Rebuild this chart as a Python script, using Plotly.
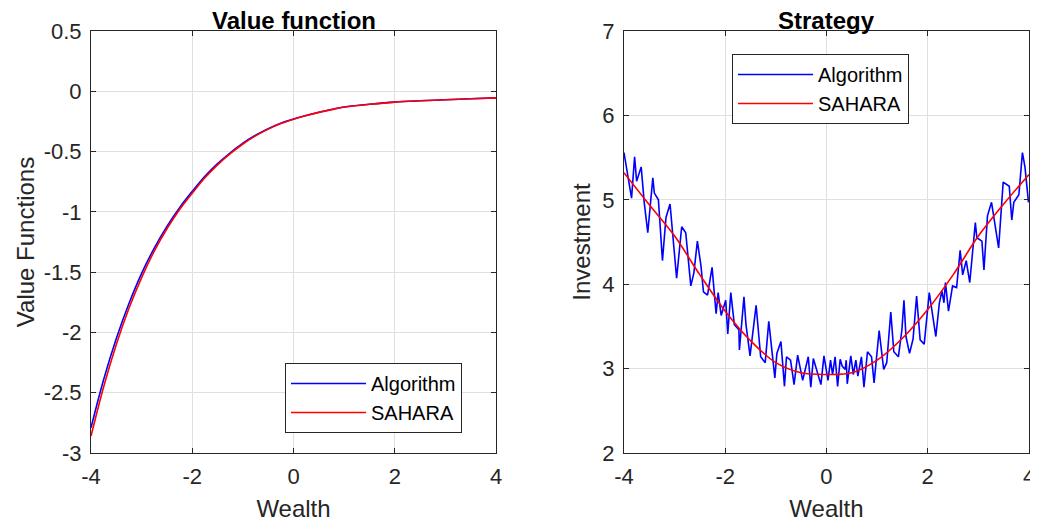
import plotly.graph_objects as go
from plotly.subplots import make_subplots

# ── Data ──────────────────────────────────────────────────────────────────────

# Value function (left panel)
wealth_vf = [-4.0, -3.75, -3.5, -3.25, -3.0, -2.75, -2.5, -2.25, -2.0,
             -1.75, -1.5, -1.25, -1.0, -0.75, -0.5, -0.25, 0.0,
             0.25, 0.5, 0.75, 1.0, 1.5, 2.0, 2.5, 3.0, 3.5, 4.0]
vf_algorithm = [-2.79, -2.39, -2.05, -1.76, -1.51, -1.30, -1.12, -0.965, -0.83,
                -0.705, -0.60, -0.51, -0.43, -0.365, -0.31, -0.265, -0.23,
                -0.20, -0.174, -0.151, -0.13, -0.108, -0.09, -0.079, -0.07, -0.062, -0.055]
vf_sahara = [-2.86, -2.45, -2.10, -1.80, -1.545, -1.325, -1.14, -0.98, -0.845,
             -0.717, -0.61, -0.518, -0.437, -0.37, -0.314, -0.268, -0.232,
             -0.201, -0.175, -0.152, -0.131, -0.108, -0.09, -0.079, -0.07, -0.062, -0.055]

# Strategy (right panel) - noisy algorithm output
wealth_alg = [-4.00, -3.95, -3.85, -3.79, -3.75, -3.66, -3.60, -3.53, -3.43, -3.40,
              -3.32, -3.24, -3.17, -3.09, -2.96, -2.86, -2.78, -2.68, -2.62, -2.55,
              -2.48, -2.43, -2.35, -2.26, -2.18, -2.14, -2.08, -1.99, -1.95, -1.89,
              -1.82, -1.73, -1.72, -1.63, -1.59, -1.51, -1.39, -1.30, -1.21, -1.14,
              -1.02, -0.98, -0.90, -0.83, -0.79, -0.71, -0.64, -0.57, -0.47, -0.36,
              -0.31, -0.26, -0.11, -0.05, 0.03, 0.08, 0.12, 0.17, 0.22, 0.27,
              0.31, 0.37, 0.39, 0.41, 0.48, 0.53, 0.58, 0.62, 0.69, 0.74,
              0.81, 0.89, 0.94, 1.04, 1.13, 1.19, 1.27, 1.33, 1.42, 1.49,
              1.53, 1.57, 1.64, 1.71, 1.78, 1.85, 1.93, 2.03, 2.09, 2.16,
              2.23, 2.28, 2.32, 2.35, 2.41, 2.49, 2.57, 2.64, 2.69, 2.76,
              2.83, 2.94, 2.97, 3.07, 3.11, 3.18, 3.26, 3.35, 3.40, 3.49,
              3.61, 3.66, 3.70, 3.80, 3.87, 3.92, 3.99]
inv_algorithm = [5.56, 5.38, 5.02, 5.51, 5.22, 5.39, 4.97, 4.61, 5.26, 5.08,
                 5.00, 4.28, 4.79, 4.95, 4.07, 4.68, 4.61, 3.98, 4.13, 4.51,
                 4.22, 3.91, 3.87, 4.20, 3.65, 3.90, 3.63, 3.81, 3.41, 3.90,
                 3.52, 3.46, 3.22, 3.85, 3.52, 3.15, 3.75, 3.14, 3.07, 3.56,
                 2.89, 3.18, 3.32, 2.79, 3.14, 3.10, 2.81, 3.16, 2.86, 3.14,
                 2.78, 3.12, 2.81, 3.15, 2.86, 3.10, 2.93, 3.14, 2.79, 3.11,
                 3.03, 2.99, 3.10, 2.82, 3.15, 2.93, 3.10, 2.91, 3.14, 2.78,
                 3.20, 3.14, 2.83, 3.45, 2.99, 3.07, 3.67, 3.20, 3.14, 3.46,
                 3.81, 3.38, 3.18, 3.35, 3.86, 3.34, 3.29, 3.90, 3.66, 3.38,
                 3.78, 3.92, 3.78, 4.02, 3.68, 3.98, 3.96, 4.40, 4.11, 4.28,
                 4.02, 4.73, 4.55, 4.51, 4.17, 4.81, 4.97, 4.61, 4.43, 5.21,
                 5.16, 4.76, 4.97, 5.06, 5.56, 5.39, 4.97]

wealth_sah = [-4.0, -3.5, -3.0, -2.5, -2.0, -1.5, -1.0, -0.5, 0.0,
              0.5, 1.0, 1.5, 2.0, 2.5, 3.0, 3.5, 4.0]
inv_sahara = [5.32, 4.94, 4.57, 4.11, 3.68, 3.33, 3.07, 2.95, 2.93,
              2.95, 3.10, 3.36, 3.70, 4.11, 4.57, 4.95, 5.30]

x_ticks = [-4, -2, 0, 2, 4]
x_ticktext = ['-4', '-2', '0', '2', '4']
vf_ticks = [-3, -2.5, -2, -1.5, -1, -0.5, 0, 0.5]
vf_ticktext = ['-3', '-2.5', '-2', '-1.5', '-1', '-0.5', '0', '0.5']
inv_ticks = [2, 3, 4, 5, 6, 7]

# ── Figure ────────────────────────────────────────────────────────────────────

FONT = 'Liberation Sans, Arial, sans-serif'
INK = '#262626'
BLUE = '#0000ff'
RED = '#ff0000'

fig = make_subplots(rows=1, cols=2, horizontal_spacing=0.1364,
                    subplot_titles=('<b>Value function</b>', '<b>Strategy</b>'))

fig.add_trace(go.Scatter(x=wealth_vf, y=vf_algorithm, name='Algorithm',
                         mode='lines', line=dict(color=BLUE, width=1.6, shape='spline'),
                         legend='legend'), row=1, col=1)
fig.add_trace(go.Scatter(x=wealth_vf, y=vf_sahara, name='SAHARA',
                         mode='lines', line=dict(color=RED, width=1.6, shape='spline'),
                         legend='legend'), row=1, col=1)
fig.add_trace(go.Scatter(x=wealth_alg, y=inv_algorithm, name='Algorithm',
                         mode='lines', line=dict(color=BLUE, width=1.6),
                         legend='legend2'), row=1, col=2)
fig.add_trace(go.Scatter(x=wealth_sah, y=inv_sahara, name='SAHARA',
                         mode='lines', line=dict(color=RED, width=1.6, shape='spline'),
                         legend='legend2'), row=1, col=2)

axis_style = dict(showline=True, linecolor=INK, linewidth=1, mirror='allticks',
                  ticks='inside', ticklen=5, tickcolor=INK,
                  showgrid=True, gridcolor='#dfdfdf', gridwidth=1,
                  zeroline=False, ticklabelstandoff=4, automargin=False,
                  tickfont=dict(size=22, color=INK, family=FONT))

fig.update_xaxes(**axis_style, range=[-4, 4], tickvals=x_ticks, ticktext=x_ticktext,
                 title=dict(text='Wealth', font=dict(size=24, color=INK), standoff=11))
fig.update_yaxes(**axis_style)
fig.update_yaxes(range=[-3, 0.5], tickvals=vf_ticks, ticktext=vf_ticktext,
                 title=dict(text='Value Functions', font=dict(size=24, color=INK), standoff=2),
                 row=1, col=1)
fig.update_yaxes(range=[2, 7], tickvals=inv_ticks,
                 title=dict(text='Investment', font=dict(size=24, color=INK), standoff=4),
                 row=1, col=2)

# subplot titles: keep the whole text box inside the figure
for ann in fig.layout.annotations:
    ann.font = dict(size=24, color='black', family=FONT)
    ann.yshift = -5.5

legend_style = dict(bgcolor='white', bordercolor=INK, borderwidth=1,
                    font=dict(size=20, color='black', family=FONT),
                    xanchor='left', yanchor='top', tracegroupgap=0, itemwidth=75)

# the page body shifts the figure by 8px, so it is drawn 8px smaller than the window
fig.update_layout(
    width=1030, height=517,
    margin=dict(l=83, r=9, t=23, b=72),
    plot_bgcolor='white', paper_bgcolor='white',
    font=dict(family=FONT, color=INK),
    legend=dict(**legend_style, x=0.2068, y=0.2133),
    legend2=dict(**legend_style, x=0.6834, y=0.9455),
)

fig.write_html("out.html")
